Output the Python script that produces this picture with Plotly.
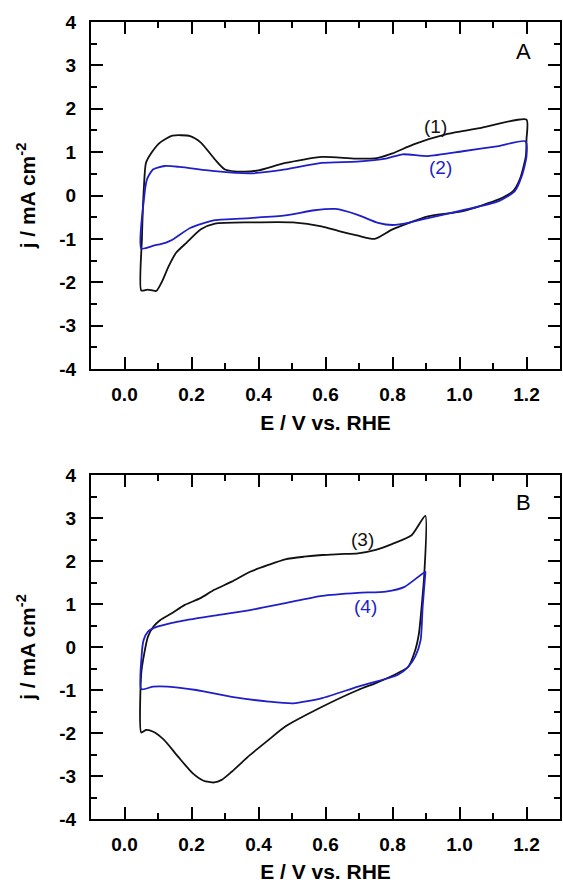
import plotly.graph_objects as go
from plotly.subplots import make_subplots

# Panel A, curve (1) black
E1 = [0.05, 0.052, 0.058, 0.064, 0.08, 0.106, 0.143, 0.196, 0.228, 0.27, 0.30, 0.355, 0.40, 0.48, 0.59, 0.69, 0.757, 0.80, 0.863, 0.959, 1.065, 1.2,
      1.2, 1.198, 1.18, 1.16, 1.117, 1.01, 0.906, 0.80, 0.747, 0.694, 0.64, 0.588, 0.503, 0.376, 0.27, 0.228, 0.185, 0.154, 0.132, 0.111, 0.095, 0.069, 0.05]
j1 = [-2.19, -1.0, 0.2, 0.75, 0.98, 1.22, 1.38, 1.37, 1.22, 0.83, 0.6, 0.55, 0.58, 0.75, 0.89, 0.85, 0.87, 0.97, 1.18, 1.41, 1.56, 1.75,
      1.3, 0.9, 0.37, 0.1, -0.09, -0.36, -0.48, -0.78, -1.0, -0.92, -0.82, -0.71, -0.62, -0.62, -0.65, -0.78, -1.09, -1.32, -1.63, -2.0, -2.2, -2.17, -2.19]

# Panel A, curve (2) blue
E2 = [0.05, 0.058, 0.067, 0.085, 0.12, 0.164, 0.27, 0.376, 0.48, 0.588, 0.694, 0.78, 0.83, 0.906, 1.01, 1.117, 1.197,
      1.2, 1.186, 1.165, 1.117, 1.01, 0.906, 0.853, 0.80, 0.757, 0.694, 0.63, 0.567, 0.48, 0.376, 0.27, 0.196, 0.143, 0.122, 0.09, 0.05]
j2 = [-1.22, -0.09, 0.37, 0.6, 0.68, 0.66, 0.56, 0.51, 0.6, 0.75, 0.78, 0.85, 0.95, 0.91, 1.02, 1.14, 1.25,
      0.9, 0.45, 0.1, -0.13, -0.34, -0.52, -0.62, -0.68, -0.63, -0.44, -0.31, -0.34, -0.46, -0.52, -0.57, -0.75, -1.02, -1.09, -1.15, -1.22]

# Panel B, curve (3) black
E3 = [0.05, 0.05, 0.059, 0.07, 0.086, 0.107, 0.14, 0.18, 0.225, 0.268, 0.32, 0.375, 0.43, 0.48, 0.536, 0.59, 0.643, 0.697, 0.75, 0.80, 0.857, 0.898,
      0.895, 0.887, 0.879, 0.868, 0.847, 0.815, 0.75, 0.697, 0.59, 0.48, 0.43, 0.375, 0.32, 0.29, 0.268, 0.236, 0.204, 0.16, 0.118, 0.086, 0.064, 0.05]
j3 = [-1.99, -0.61, -0.15, 0.24, 0.47, 0.63, 0.78, 0.98, 1.13, 1.33, 1.52, 1.75, 1.91, 2.04, 2.1, 2.14, 2.16, 2.18, 2.26, 2.4, 2.6, 3.05,
      1.71, 0.94, 0.32, -0.07, -0.46, -0.61, -0.84, -1.0, -1.39, -1.85, -2.16, -2.51, -2.9, -3.09, -3.15, -3.11, -2.94, -2.55, -2.16, -1.97, -1.93, -1.99]

# Panel B, curve (4) blue
E4 = [0.05, 0.051, 0.057, 0.07, 0.09, 0.16, 0.268, 0.375, 0.48, 0.59, 0.697, 0.78, 0.836, 0.898,
      0.898, 0.89, 0.884, 0.868, 0.847, 0.815, 0.697, 0.59, 0.504, 0.43, 0.32, 0.214, 0.129, 0.086, 0.05]
j4 = [-0.98, -0.22, 0.16, 0.36, 0.45, 0.59, 0.73, 0.86, 1.02, 1.19, 1.26, 1.29, 1.4, 1.75,
      1.71, 0.94, 0.16, -0.22, -0.46, -0.65, -0.92, -1.19, -1.31, -1.27, -1.16, -1.0, -0.92, -0.92, -0.98]

y_ticks = [4, 3, 2, 1, 0, -1, -2, -3, -4]
y_ticktext = ["4", "3", "2", "1", "0", "-1", "-2", "-3", "-4"]
x_ticks = [0.0, 0.2, 0.4, 0.6, 0.8, 1.0, 1.2]
x_ticktext = ["0.0", "0.2", "0.4", "0.6", "0.8", "1.0", "1.2"]

BLACK = "#111111"
BLUE = "#1f1fc8"
FONT = "Liberation Sans"
TICKFONT = dict(family=FONT, size=19, color="black", weight="bold")

fig = make_subplots(rows=2, cols=1, vertical_spacing=0.1)

for E, j, c, r in [(E1, j1, BLACK, 1), (E2, j2, BLUE, 1), (E3, j3, BLACK, 2), (E4, j4, BLUE, 2)]:
    fig.add_trace(go.Scatter(x=E, y=j, mode="lines", line=dict(color=c, width=1.8, shape="spline", smoothing=0.6),
                             showlegend=False, hoverinfo="skip"), row=r, col=1)

for r in (1, 2):
    fig.update_xaxes(range=[-0.1, 1.3], tickmode="array", tickvals=x_ticks, ticktext=x_ticktext,
                     showline=True, linewidth=2, linecolor="black", mirror="ticks", ticks="inside",
                     tickwidth=2, tickcolor="black", ticklen=12, showgrid=False, zeroline=False,
                     tickfont=TICKFONT,
                     minor=dict(ticks="inside", ticklen=6, tickwidth=2, tickcolor="black", dtick=0.1, tick0=0, showgrid=False),
                     ticklabelstandoff=7,
                     title=dict(text="E / V vs. RHE", font=dict(family=FONT, size=21, color="black", weight="bold"), standoff=11),
                     row=r, col=1)
    fig.update_yaxes(range=[-4, 4], tickmode="array", tickvals=y_ticks, ticktext=y_ticktext,
                     showline=True, linewidth=2, linecolor="black", mirror="ticks", ticks="inside",
                     tickwidth=2, tickcolor="black", ticklen=12, showgrid=False, zeroline=False,
                     tickfont=TICKFONT,
                     minor=dict(ticks="inside", ticklen=6, tickwidth=2, tickcolor="black", dtick=0.5, tick0=0, showgrid=False),
                     ticklabelstandoff=9,
                     title=dict(text="j / mA cm<sup>-2</sup>", font=dict(family=FONT, size=21, color="black", weight="bold"), standoff=18),
                     row=r, col=1)

fig.update_layout(
    width=563, height=883,
    font=dict(family=FONT, size=19, color="black"),
    margin=dict(l=91, r=1, t=22, b=64),
    plot_bgcolor="white", paper_bgcolor="white",
    yaxis=dict(domain=[0.5646, 1.0]), yaxis2=dict(domain=[0.0, 0.4316]),
)

ann = [
    ("x", "y", 1.192, 3.31, "A", "black", 22),
    ("x", "y", 0.927, 1.6, "(1)", BLACK, 19),
    ("x", "y", 0.943, 0.64, "(2)", BLUE, 19),
    ("x2", "y2", 1.192, 3.35, "B", "black", 22),
    ("x2", "y2", 0.71, 2.49, "(3)", BLACK, 19),
    ("x2", "y2", 0.72, 0.94, "(4)", BLUE, 19),
]
for xr, yr, x, y, t, c, s in ann:
    fig.add_annotation(xref=xr, yref=yr, x=x, y=y, text=t, showarrow=False,
                       font=dict(family=FONT, size=s, color=c))

fig.write_html("out.html")
